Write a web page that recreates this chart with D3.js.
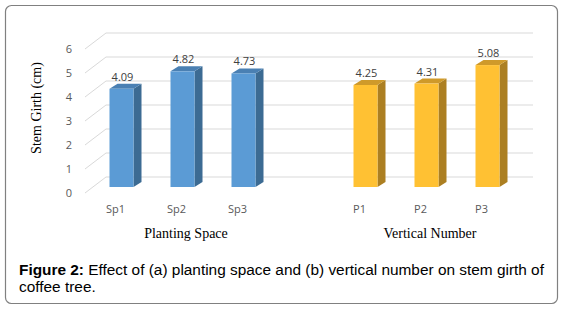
<!DOCTYPE html>
<html>
<head>
<meta charset="utf-8">
<script src="https://cdn.jsdelivr.net/npm/d3@7"></script>
<style>
  body { margin: 0; background: #fff; }
  svg { display: block; }
</style>
</head>
<body>
<div id="chart"></div>
<script>
// data
var categories = ["Sp1", "Sp2", "Sp3", "", "P1", "P2", "P3"];
var values = [4.09, 4.82, 4.73, null, 4.25, 4.31, 5.08];
var groups = ["a", "a", "a", null, "b", "b", "b"];
var yTicks = [0, 1, 2, 3, 4, 5, 6];
var groupTitles = ["Planting Space", "Vertical Number"];

var width = 561, height = 311;

var svg = d3.select("#chart").append("svg")
    .attr("width", width)
    .attr("height", height);

// outer frame
svg.append("rect")
    .attr("x", 5.5).attr("y", 5.5)
    .attr("width", 552).attr("height", 298)
    .attr("rx", 6)
    .attr("fill", "#fff")
    .attr("stroke", "#808080")
    .attr("stroke-width", 1.2);

// front plane of the floor, and the wall offset behind it
var front0 = 193,
    wallDx = 21, wallDy = -16,
    barDx = 6, barDy = -6,     // bars sit a bit behind the front edge
    depthX = 8, depthY = -5;   // bar depth

var x = d3.scaleBand()
    .domain(categories.map(function(d, i) { return i; }))
    .range([85, 512]);

var y = d3.scaleLinear()
    .domain([0, 6])
    .range([0, 144]);

var colors = {
    a: { front: "#5b9bd5", side: "#3c6b93", top: "#4a80b3" },
    b: { front: "#ffc133", side: "#ac7f22", top: "#cf9a2a" }
};

// gridlines: back wall plus left side wall
var grid = svg.append("g");
yTicks.forEach(function(t) {
    var yb = front0 + wallDy - y(t);
    grid.append("line")
        .attr("x1", 85 + wallDx).attr("x2", 512 + wallDx)
        .attr("y1", yb).attr("y2", yb)
        .attr("stroke", "#d9d9d9").attr("stroke-width", 1);
    grid.append("line")
        .attr("x1", 85).attr("y1", front0 - y(t))
        .attr("x2", 85 + wallDx).attr("y2", yb)
        .attr("stroke", "#d9d9d9").attr("stroke-width", 1);
});

// y tick labels
svg.append("g").selectAll("text")
    .data(yTicks)
    .enter().append("text")
    .attr("x", 72)
    .attr("y", function(d) { return front0 - y(d); })
    .attr("dy", "0.35em")
    .attr("text-anchor", "end")
    .attr("font-family", "Open Sans, sans-serif")
    .attr("font-size", 11)
    .attr("fill", "#595959")
    .text(function(d) { return d; });

// bars
var bw = 24;
var bars = svg.append("g").selectAll("g")
    .data(values.map(function(v, i) { return { i: i, v: v, g: groups[i] }; })
        .filter(function(d) { return d.v != null; }))
    .enter().append("g");

bars.each(function(d) {
    var g = d3.select(this);
    var c = colors[d.g];
    var x0 = x(d.i) + x.bandwidth() / 2 - bw / 2 + barDx;
    var yb = front0 + barDy;
    var yt = yb - y(d.v);
    // side
    g.append("path")
        .attr("d", "M" + (x0 + bw) + "," + yb +
            "L" + (x0 + bw + depthX) + "," + (yb + depthY) +
            "L" + (x0 + bw + depthX) + "," + (yt + depthY) +
            "L" + (x0 + bw) + "," + yt + "Z")
        .attr("fill", c.side);
    // top
    g.append("path")
        .attr("d", "M" + x0 + "," + yt +
            "L" + (x0 + depthX) + "," + (yt + depthY) +
            "L" + (x0 + bw + depthX) + "," + (yt + depthY) +
            "L" + (x0 + bw) + "," + yt + "Z")
        .attr("fill", c.top);
    // front
    g.append("rect")
        .attr("x", x0).attr("y", yt)
        .attr("width", bw).attr("height", y(d.v))
        .attr("fill", c.front);
    // value label
    g.append("text")
        .attr("x", x0 + bw / 2 + 1)
        .attr("y", yt - 8)
        .attr("text-anchor", "middle")
        .attr("font-family", "Open Sans, sans-serif")
        .attr("font-size", 11)
        .attr("fill", "#404040")
        .text(d.v.toFixed(2));
});

// category labels
svg.append("g").selectAll("text")
    .data(categories)
    .enter().append("text")
    .attr("x", function(d, i) { return x(i) + x.bandwidth() / 2; })
    .attr("y", 213)
    .attr("text-anchor", "middle")
    .attr("font-family", "Open Sans, sans-serif")
    .attr("font-size", 11)
    .attr("fill", "#595959")
    .text(function(d) { return d; });

// group titles
var titleFont = "Liberation Serif, Times New Roman, serif";
svg.append("text")
    .attr("x", 186).attr("y", 238)
    .attr("text-anchor", "middle")
    .attr("font-family", titleFont).attr("font-size", 14)
    .attr("fill", "#000")
    .text(groupTitles[0]);
svg.append("text")
    .attr("x", 430).attr("y", 238)
    .attr("text-anchor", "middle")
    .attr("font-family", titleFont).attr("font-size", 14)
    .attr("fill", "#000")
    .text(groupTitles[1]);

svg.append("text")
    .attr("transform", "translate(41,108) rotate(-90)")
    .attr("text-anchor", "middle")
    .attr("font-family", titleFont).attr("font-size", 14)
    .attr("fill", "#000")
    .text("Stem Girth (cm)");

// caption
var cap = svg.append("text")
    .attr("x", 19).attr("y", 275)
    .attr("font-family", "Liberation Sans, Arial, sans-serif")
    .attr("font-size", 15.4)
    .attr("fill", "#000");
cap.append("tspan").attr("font-weight", "bold").text("Figure 2:");
cap.append("tspan").text(" Effect of (a) planting space and (b) vertical number on stem girth of");
svg.append("text")
    .attr("x", 19).attr("y", 292)
    .attr("font-family", "Liberation Sans, Arial, sans-serif")
    .attr("font-size", 15.4)
    .attr("fill", "#000")
    .text("coffee tree.");
</script>
</body>
</html>
